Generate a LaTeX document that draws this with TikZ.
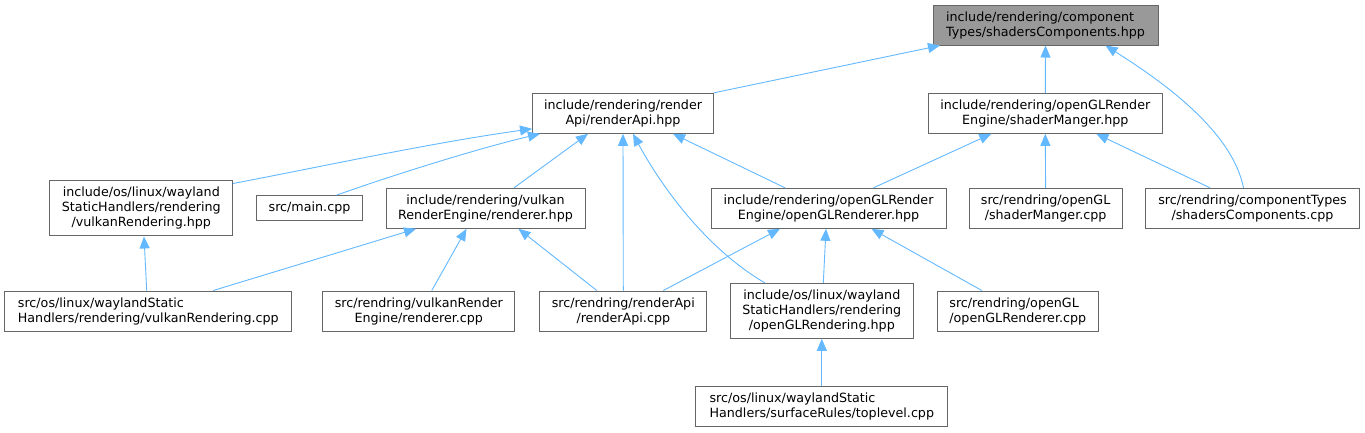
\documentclass[tikz,border=0pt]{standalone}
\usepackage{fontspec}
\setmainfont{DejaVu Sans}
\usetikzlibrary{arrows.meta}
\definecolor{edgeblue}{HTML}{63B8FF}
\definecolor{boxborder}{HTML}{666666}
\definecolor{topfill}{HTML}{999999}
\tikzset{
  filebox/.style={draw=boxborder, fill=white, line width=1pt, inner sep=0pt, align=center,
    minimum height=40pt, font=\fontsize{12.7}{15}\selectfont},
  leftbox/.style={filebox, align=left},
  dep/.style={draw=edgeblue, line width=0.9pt, {Triangle[length=12pt,width=10pt]}-}
}
\begin{document}
\begin{tikzpicture}[x=1pt,y=-1pt]
\useasboundingbox (0,0) rectangle (1365,432);
% row 0
\node[leftbox, fill=topfill, minimum width=225pt] (top) at (1045.5,25) {include/rendering/component\\Types/shadersComponents.hpp};
% row 1
\node[filebox, minimum width=181pt] (rapi) at (623,113.3) {include/rendering/render\\Api/renderApi.hpp};
\node[filebox, minimum width=234pt] (smh) at (1045.3,113.3) {include/rendering/openGLRender\\Engine/shaderManger.hpp};
% row 2
\node[filebox, minimum width=182.7pt, minimum height=55.3pt] (vrh) at (141.3,208.3) {include/os/linux/wayland\\StaticHandlers/rendering\\/vulkanRendering.hpp};
\node[filebox, minimum width=105.6pt, minimum height=25.3pt] (main) at (309.5,208.3) {src/main.cpp};
\node[filebox, minimum width=199pt] (vrend) at (485.5,208.3) {include/rendering/vulkan\\RenderEngine/renderer.hpp};
\node[filebox, minimum width=235pt] (oglh) at (828.5,208.3) {include/rendering/openGLRender\\Engine/openGLRenderer.hpp};
\node[filebox, minimum width=153pt] (smcpp) at (1045.6,208.3) {src/rendring/openGL\\/shaderManger.cpp};
\node[filebox, minimum width=213.6pt] (sccpp) at (1252.5,208.3) {src/rendring/componentTypes\\/shadersComponents.cpp};
% row 3
\node[leftbox, minimum width=287.3pt] (vrcpp) at (148.3,311) {src/os/linux/waylandStatic\\Handlers/rendering/vulkanRendering.cpp};
\node[filebox, minimum width=192.3pt] (rcpp) at (418.8,311) {src/rendring/vulkanRender\\Engine/renderer.cpp};
\node[filebox, minimum width=166.7pt] (racpp) at (623.3,311) {src/rendring/renderApi\\/renderApi.cpp};
\node[filebox, minimum width=183pt, minimum height=55pt] (oglrh) at (821.8,310.8) {include/os/linux/wayland\\StaticHandlers/rendering\\/openGLRendering.hpp};
\node[leftbox, minimum width=161pt] (oglcpp) at (1017.8,311) {src/rendring/openGL\\/openGLRenderer.cpp};
% row 4
\node[leftbox, minimum width=251.7pt] (tl) at (821.8,406.5) {src/os/linux/waylandStatic\\Handlers/surfaceRules/toplevel.cpp};
% edges (arrow at the included file)
\draw[dep] ([xshift=-105.5pt]top.south) -- (rapi.north east);
\draw[dep] (top.south) -- (smh.north);
\draw[dep] ([xshift=60pt]top.south) .. controls (1160,80) and (1232,130) .. ([xshift=-9pt]sccpp.north);
\draw[dep] ([yshift=5pt]rapi.south west) .. controls (430,143) and (320,167) .. ([yshift=-3.3pt]vrh.north east);
\draw[dep] ([xshift=8pt]rapi.south west) .. controls (480,148) and (396,174) .. ([xshift=27pt]main.north);
\draw[dep] ([xshift=-35pt]rapi.south) -- ([xshift=28.5pt]vrend.north);
\draw[dep] (rapi.south) -- (racpp.north);
\draw[dep] ([xshift=10pt]rapi.south) .. controls (655,175) and (700,245) .. ([xshift=-57pt]oglrh.north);
\draw[dep] ([xshift=50pt]rapi.south) -- ([xshift=-43.5pt]oglh.north);
\draw[dep] ([xshift=-54pt]smh.south) -- ([xshift=45pt]oglh.north);
\draw[dep] (smh.south) -- (smcpp.north);
\draw[dep] ([xshift=51pt]smh.south) -- ([xshift=-42.5pt]sccpp.north);
\draw[dep] ([xshift=2.7pt]vrh.south) -- ([xshift=-1.6pt]vrcpp.north);
\draw[dep] ([xshift=-69.5pt]vrend.south) -- ([xshift=65pt]vrcpp.north);
\draw[dep] ([xshift=-19pt]vrend.south) -- ([xshift=13pt]rcpp.north);
\draw[dep] ([xshift=33pt]vrend.south) -- ([xshift=-26.5pt]racpp.north);
\draw[dep] ([xshift=-48.5pt]oglh.south) -- ([xshift=40pt]racpp.north);
\draw[dep] ([xshift=-2.5pt]oglh.south) -- ([xshift=1.5pt]oglrh.north);
\draw[dep] ([xshift=43pt]oglh.south) -- ([xshift=-36pt]oglcpp.north);
\draw[dep] (oglrh.south) -- (tl.north);
\end{tikzpicture}
\end{document}
